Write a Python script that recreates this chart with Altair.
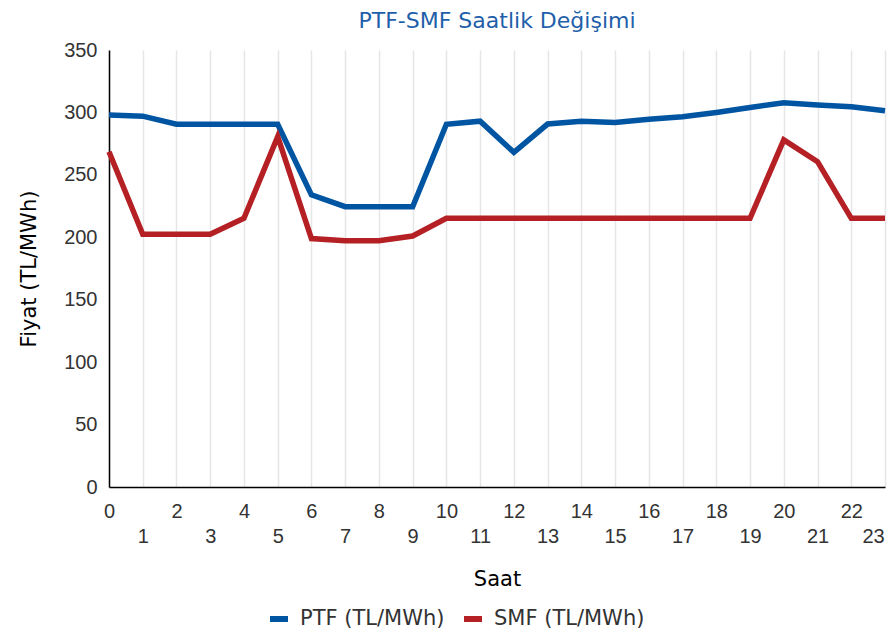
import altair as alt
import pandas as pd

hours = list(range(24))
ptf = [298, 297, 290.5, 290.5, 290.5, 290.5, 234, 224.5, 224.5, 224.5,
       290.5, 293, 268, 290.7, 293, 292, 294.5, 296.6, 300, 304,
       307.8, 306, 304.6, 301.4]
smf = [268.5, 202.4, 202.4, 202.4, 215.2, 280.6, 199, 197.3, 197.3, 201,
       215.2, 215.2, 215.2, 215.2, 215.2, 215.2, 215.2, 215.2, 215.2, 215.2,
       278, 260.6, 215.2, 215.2]
series_names = ["PTF (TL/MWh)", "SMF (TL/MWh)"]
series_colors = ["#0055A2", "#B52025"]

rows = []
for h, v in zip(hours, ptf):
    rows.append({"Saat": h, "Fiyat": v, "Seri": series_names[0]})
for h, v in zip(hours, smf):
    rows.append({"Saat": h, "Fiyat": v, "Seri": series_names[1]})
df = pd.DataFrame(rows)

FONT = "DejaVu Sans"
NUMFONT = "Liberation Sans"
TXT = "#333333"

chart = alt.Chart(df).mark_line(strokeWidth=5.5).encode(
    x=alt.X("Saat:Q",
            scale=alt.Scale(domain=[0, 23], nice=False, zero=False),
            axis=alt.Axis(values=hours, title="Saat", grid=True, gridColor="#e6e6e6",
                          gridWidth=1.5, ticks=False, domainColor="#000000", domainWidth=1.5,
                          labelFontSize=20, labelColor=TXT, labelFont=NUMFONT,
                          labelOverlap=False, labelFlush=False,
                          labelPadding={"expr": "datum.value % 2 ? 39 : 14"},
                          labelOffset={"expr": "datum.value == 23 ? -12 : 0"},
                          titleFontSize=21, titleFont=FONT, titleColor="#000000",
                          titleFontWeight="normal", titlePadding=22)),
    y=alt.Y("Fiyat:Q",
            scale=alt.Scale(domain=[0, 350], nice=False),
            axis=alt.Axis(values=[0, 50, 100, 150, 200, 250, 300, 350], title="Fiyat (TL/MWh)",
                          grid=False, ticks=False, domainColor="#000000", domainWidth=1.5,
                          labelFontSize=20, labelColor=TXT, labelFont=NUMFONT, labelPadding=12,
                          titleFontSize=21, titleFont=FONT, titleColor="#000000",
                          titleFontWeight="normal", titlePadding=24)),
    color=alt.Color("Seri:N",
                    scale=alt.Scale(domain=series_names, range=series_colors),
                    legend=alt.Legend(title=None, orient="none", direction="horizontal",
                                      legendX=158, legendY=557,
                                      symbolType="stroke", symbolStrokeWidth=6, symbolSize=324,
                                      labelFontSize=21, labelFont=FONT, labelColor=TXT,
                                      columnPadding=7, labelOffset=9)),
).properties(
    width=776, height=437,
    title=alt.TitleParams("PTF-SMF Saatlik Değişimi", color="#1F5FAA", fontSize=22,
                          font=FONT, fontWeight="normal", anchor="middle", offset=7),
    autosize=alt.AutoSizeParams(type="none"),
    padding={"left": 101, "top": 42, "right": 2, "bottom": 145},
).configure_view(stroke=None)

chart.save("out.html", embed_options={"renderer": "svg", "actions": False})
